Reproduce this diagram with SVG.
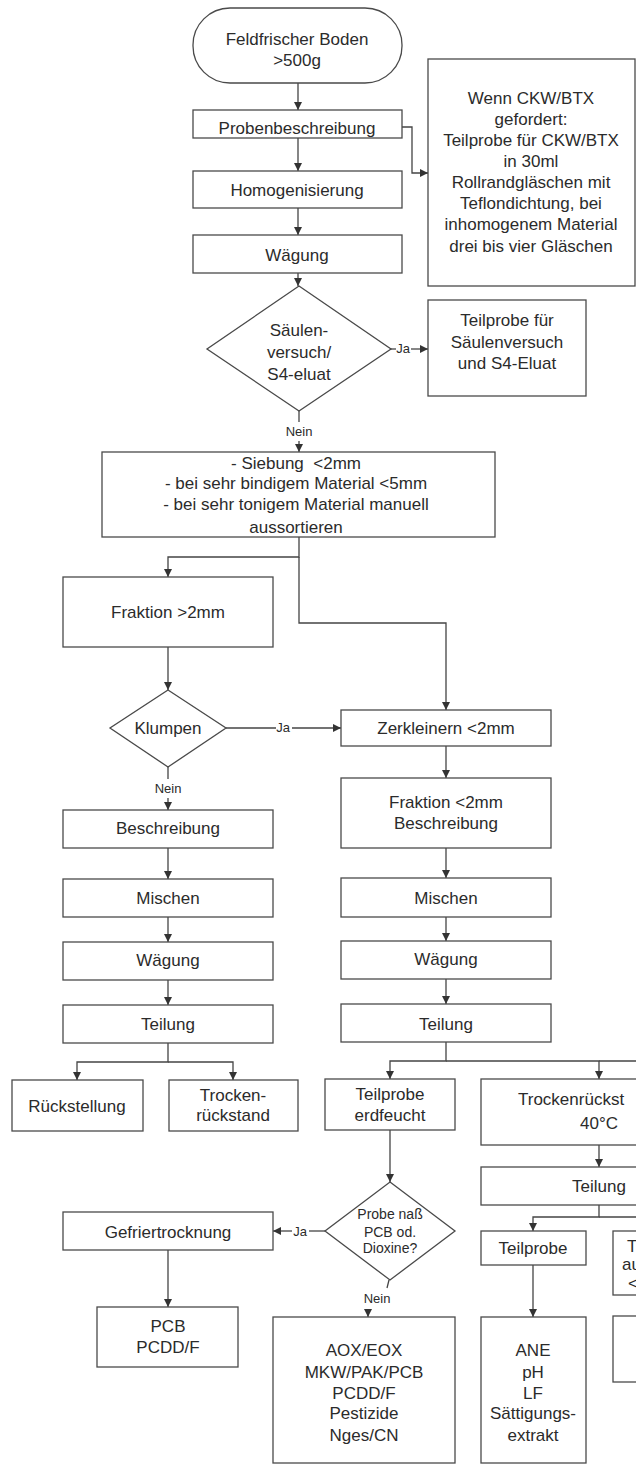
<svg xmlns="http://www.w3.org/2000/svg" width="636" height="1466" viewBox="0 0 636 1466">
<style>
.b{fill:#fff;stroke:#4a4a4a;stroke-width:1.3}
.t{font-family:"Liberation Sans",Arial,sans-serif;font-size:17px;fill:#2b2b2b;text-anchor:middle}
.s{font-size:14px}
.l{font-family:"Liberation Sans",Arial,sans-serif;font-size:13px;fill:#2b2b2b;text-anchor:middle}
.c{fill:none;stroke:#444;stroke-width:1.3}
.a{marker-end:url(#ah)}
</style>
<defs>
<marker id="ah" viewBox="0 0 10 10" refX="10" refY="5" markerWidth="9" markerHeight="8" markerUnits="userSpaceOnUse" orient="auto">
<path d="M0,0 L10,5 L0,10 z" fill="#333"/>
</marker>
</defs>
<rect width="636" height="1466" fill="#fff"/>

<g id="connectors">
<path class="c a" d="M298,83 V110"/>
<path class="c a" d="M402,127 H412 V173 H428"/>
<path class="c a" d="M298,138 V171"/>
<path class="c a" d="M298,208 V235"/>
<path class="c a" d="M298,273 V286"/>
<path class="c" d="M391,349 H396"/>
<path class="c a" d="M411,349 H428"/>
<path class="c" d="M299,411 V422"/>
<path class="c a" d="M299,441 V452"/>
<path class="c a" d="M299,537 V557 H168 V577"/>
<path class="c a" d="M299,557 V623 H446 V710"/>
<path class="c a" d="M168,647 V690"/>
<path class="c" d="M226,728 H276"/>
<path class="c a" d="M292,728 H341"/>
<path class="c" d="M168,767 V779"/>
<path class="c a" d="M168,798 V810"/>
<path class="c a" d="M168,848 V879"/>
<path class="c a" d="M168,917 V942"/>
<path class="c a" d="M168,980 V1005"/>
<path class="c a" d="M446,746 V778"/>
<path class="c a" d="M446,848 V878"/>
<path class="c a" d="M446,917 V941"/>
<path class="c a" d="M446,979 V1004"/>
<path class="c a" d="M168,1043 V1062 H77 V1080"/>
<path class="c a" d="M168,1062 H233 V1080"/>
<path class="c a" d="M446,1042 V1061 H390 V1079"/>
<path class="c a" d="M446,1061 H599 V1079"/>
<path class="c" d="M599,1061 H636"/>
<path class="c a" d="M390,1130 V1182"/>
<path class="c a" d="M599,1145 V1167"/>
<path class="c a" d="M599,1205 V1217 H533 V1231"/>
<path class="c" d="M599,1217 H636"/>
<path class="c" d="M325,1231 H309"/>
<path class="c a" d="M292,1231 H273"/>
<path class="c a" d="M168,1250 V1307"/>
<path class="c" d="M389,1280 L387,1288"/>
<path class="c a" d="M368,1309 V1317"/>
<path class="c a" d="M533,1265 V1317"/>
<text class="l" x="403" y="353">Ja</text>
<text class="l" x="299" y="436">Nein</text>
<text class="l" x="283" y="732">Ja</text>
<text class="l" x="168" y="793">Nein</text>
<text class="l" x="300" y="1236">Ja</text>
<text class="l" x="377" y="1303">Nein</text>
</g>

<g id="start">
<rect class="b" x="193" y="8" width="209" height="75" rx="37"/>
<text class="t" x="297" y="45">Feldfrischer Boden</text>
<text class="t" x="297" y="66">&gt;500g</text>
</g>
<g id="probenbeschreibung">
<rect class="b" x="193" y="110" width="209" height="28"/>
<text class="t" x="297" y="134">Probenbeschreibung</text>
</g>
<g id="homogenisierung">
<rect class="b" x="193" y="171" width="209" height="37"/>
<text class="t" x="297" y="196">Homogenisierung</text>
</g>
<g id="waegung1">
<rect class="b" x="193" y="235" width="209" height="38"/>
<text class="t" x="297" y="261">Wägung</text>
</g>
<g id="ckw">
<rect class="b" x="428" y="59" width="207" height="227"/>
<text class="t" x="531" y="104">Wenn CKW/BTX</text>
<text class="t" x="531" y="125">gefordert:</text>
<text class="t" x="531" y="146">Teilprobe für CKW/BTX</text>
<text class="t" x="531" y="167">in 30ml</text>
<text class="t" x="531" y="188">Rollrandgläschen mit</text>
<text class="t" x="531" y="209">Teflondichtung, bei</text>
<text class="t" x="531" y="230">inhomogenem Material</text>
<text class="t" x="531" y="252">drei bis vier Gläschen</text>
</g>
<g id="saeulen-entscheidung">
<polygon class="b" points="299,286 391,349 299,411 207,349"/>
<text class="t" x="299" y="336">Säulen-</text>
<text class="t" x="299" y="358">versuch/</text>
<text class="t" x="299" y="380">S4-eluat</text>
</g>
<g id="teilprobe-saeulen">
<rect class="b" x="428" y="300" width="158" height="96"/>
<text class="t" x="507" y="326">Teilprobe für</text>
<text class="t" x="507" y="348">Säulenversuch</text>
<text class="t" x="507" y="369">und S4-Eluat</text>
</g>
<g id="siebung">
<rect class="b" x="102" y="452" width="393" height="85"/>
<text class="t" x="296" y="469" xml:space="preserve">- Siebung  &lt;2mm</text>
<text class="t" x="296" y="489">- bei sehr bindigem Material &lt;5mm</text>
<text class="t" x="296" y="510">- bei sehr tonigem Material manuell</text>
<text class="t" x="296" y="533">aussortieren</text>
</g>
<g id="fraktion-gross">
<rect class="b" x="63" y="577" width="210" height="70"/>
<text class="t" x="168" y="618">Fraktion &gt;2mm</text>
</g>
<g id="klumpen">
<polygon class="b" points="168,690 226,728 168,767 110,728"/>
<text class="t" x="168" y="734">Klumpen</text>
</g>
<g id="zerkleinern">
<rect class="b" x="341" y="710" width="210" height="36"/>
<text class="t" x="446" y="734">Zerkleinern &lt;2mm</text>
</g>
<g id="beschreibung-links">
<rect class="b" x="63" y="810" width="210" height="38"/>
<text class="t" x="168" y="834">Beschreibung</text>
</g>
<g id="fraktion-klein">
<rect class="b" x="341" y="778" width="210" height="70"/>
<text class="t" x="446" y="808">Fraktion &lt;2mm</text>
<text class="t" x="446" y="829">Beschreibung</text>
</g>
<g id="mischen-links">
<rect class="b" x="63" y="879" width="210" height="38"/>
<text class="t" x="168" y="904">Mischen</text>
</g>
<g id="mischen-rechts">
<rect class="b" x="341" y="878" width="210" height="39"/>
<text class="t" x="446" y="904">Mischen</text>
</g>
<g id="waegung-links">
<rect class="b" x="63" y="942" width="210" height="38"/>
<text class="t" x="168" y="966">Wägung</text>
</g>
<g id="waegung-rechts">
<rect class="b" x="341" y="941" width="210" height="38"/>
<text class="t" x="446" y="965">Wägung</text>
</g>
<g id="teilung-links">
<rect class="b" x="63" y="1005" width="210" height="38"/>
<text class="t" x="168" y="1030">Teilung</text>
</g>
<g id="teilung-rechts">
<rect class="b" x="341" y="1004" width="210" height="38"/>
<text class="t" x="446" y="1030">Teilung</text>
</g>
<g id="rueckstellung">
<rect class="b" x="12" y="1080" width="131" height="51"/>
<text class="t" x="77" y="1112">Rückstellung</text>
</g>
<g id="trockenrueckstand-links">
<rect class="b" x="169" y="1080" width="129" height="51"/>
<text class="t" x="233" y="1101">Trocken-</text>
<text class="t" x="233" y="1121">rückstand</text>
</g>
<g id="teilprobe-erdfeucht">
<rect class="b" x="325" y="1079" width="130" height="51"/>
<text class="t" x="390" y="1100">Teilprobe</text>
<text class="t" x="390" y="1121">erdfeucht</text>
</g>
<g id="trockenrueckstand-rechts">
<rect class="b" x="481" y="1079" width="240" height="66"/>
<text class="t" x="518" y="1105" style="text-anchor:start">Trockenrückst</text>
<text class="t" x="599" y="1129">40°C</text>
</g>
<g id="teilung-drei">
<rect class="b" x="481" y="1167" width="240" height="38"/>
<text class="t" x="599" y="1192">Teilung</text>
</g>
<g id="probe-nass">
<polygon class="b" points="390,1182 455,1231 390,1280 325,1231"/>
<text class="t s" x="390" y="1219">Probe naß</text>
<text class="t s" x="390" y="1237">PCB od.</text>
<text class="t s" x="390" y="1253">Dioxine?</text>
</g>
<g id="gefriertrocknung">
<rect class="b" x="63" y="1212" width="210" height="38"/>
<text class="t" x="168" y="1238">Gefriertrocknung</text>
</g>
<g id="pcb">
<rect class="b" x="97" y="1307" width="141" height="60"/>
<text class="t" x="168" y="1332">PCB</text>
<text class="t" x="168" y="1353">PCDD/F</text>
</g>
<g id="teilprobe">
<rect class="b" x="481" y="1231" width="105" height="34"/>
<text class="t" x="533" y="1254">Teilprobe</text>
</g>
<g id="teilprobe-rechts">
<rect class="b" x="613" y="1231" width="60" height="64"/>
<text class="t" x="627" y="1252" style="text-anchor:start">T</text>
<text class="t" x="622" y="1270" style="text-anchor:start">au</text>
<text class="t" x="628" y="1289" style="text-anchor:start">&lt;</text>
</g>
<g id="box-rechts-unten">
<rect class="b" x="613" y="1316" width="60" height="66"/>
</g>
<g id="aox">
<rect class="b" x="273" y="1317" width="182" height="146"/>
<text class="t" x="364" y="1356">AOX/EOX</text>
<text class="t" x="364" y="1378">MKW/PAK/PCB</text>
<text class="t" x="364" y="1399">PCDD/F</text>
<text class="t" x="364" y="1419">Pestizide</text>
<text class="t" x="364" y="1441">Nges/CN</text>
</g>
<g id="ane">
<rect class="b" x="481" y="1317" width="105" height="146"/>
<text class="t" x="533" y="1356">ANE</text>
<text class="t" x="533" y="1378">pH</text>
<text class="t" x="533" y="1399">LF</text>
<text class="t" x="533" y="1419">Sättigungs-</text>
<text class="t" x="533" y="1441">extrakt</text>
</g>
</svg>
